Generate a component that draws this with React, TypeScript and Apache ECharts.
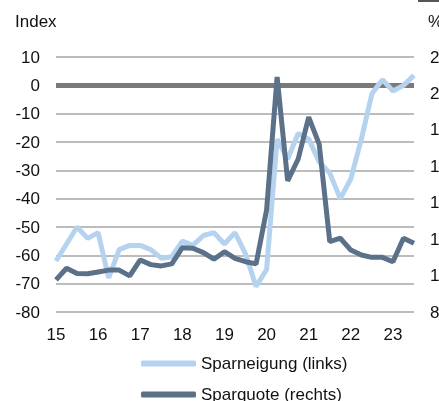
import React, { useEffect, useRef } from "react";
import * as echarts from "echarts";

const categories: string[] = [];
for (let y = 2015; y <= 2023; y++) {
  for (let q = 1; q <= 4; q++) {
    if (y === 2023 && q === 4) break;
    categories.push(`${y}Q${q}`);
  }
}

const sparneigung = [
  -62, -56, -50, -54, -52, -68, -58, -56.5, -56.5, -58, -61, -60.5, -55, -56.5, -53, -52, -56,
  -52, -59.5, -71, -65, -19, -26, -17, -19, -27, -31, -40, -33, -19, -3, 2, -2, 0, 3.5,
];

const sparquote = [
  9.76, 10.4, 10.12, 10.1, 10.2, 10.3, 10.3, 9.98, 10.86, 10.6, 10.53, 10.64, 11.53, 11.5, 11.26,
  10.9, 11.31, 10.95, 10.76, 10.64, 13.6, 20.9, 15.2, 16.4, 18.7, 17.2, 11.86, 12.05, 11.4, 11.13,
  11.0, 11.0, 10.76, 12.05, 11.77,
];

const seriesNames = ["Sparneigung (links)", "Sparquote (rechts)"];
const FONT = "'Liberation Sans', Arial, sans-serif";

const legendBase = {
  orient: "vertical",
  left: 136,
  itemWidth: 55,
  itemHeight: 6,
  icon: "roundRect",
  textStyle: { fontSize: 17, color: "#111", fontFamily: FONT },
};

export default function App() {
  const ref = useRef<HTMLDivElement>(null);
  useEffect(() => {
    if (!ref.current) return;
    const chart = echarts.init(ref.current, undefined, { renderer: "svg" });
    chart.setOption({
      animation: false,
      textStyle: { fontFamily: FONT },
      grid: { left: 56, right: 25, top: 57, bottom: 89, containLabel: false, outerBoundsMode: "none" },
      legend: [
        { ...legendBase, top: 350, data: [seriesNames[0]] },
        { ...legendBase, top: 381, data: [seriesNames[1]] },
      ],
      graphic: [
        { type: "text", left: 15, top: 13, style: { text: "Index", fontSize: 17, fill: "#111", fontFamily: FONT } },
        { type: "text", x: 428, y: 13, style: { text: "%", fontSize: 17, fill: "#111", fontFamily: FONT } },
        { type: "line", shape: { x1: 418, y1: 1, x2: 439, y2: 1 }, style: { stroke: "#555", lineWidth: 2 } },
      ],
      xAxis: {
        type: "category",
        data: categories,
        boundaryGap: false,
        axisLine: { show: false },
        axisTick: { show: false },
        axisLabel: {
          interval: 0,
          margin: 14,
          fontSize: 17,
          color: "#111",
          fontFamily: FONT,
          formatter: (v: string) => (v.endsWith("Q1") ? v.slice(2, 4) : ""),
        },
        splitLine: { show: false },
      },
      yAxis: [
        {
          type: "value",
          min: -80,
          max: 10,
          interval: 10,
          axisLine: { show: false },
          axisTick: { show: false },
          axisLabel: { margin: 16, fontSize: 17, color: "#111", fontFamily: FONT },
          splitLine: { lineStyle: { color: "#a6a6a6", width: 1.5 } },
        },
        {
          type: "value",
          min: 8,
          max: 22,
          interval: 2,
          position: "right",
          axisLine: { show: false },
          axisTick: { show: false },
          axisLabel: { margin: 16, fontSize: 17, color: "#111", fontFamily: FONT, align: "left" },
          splitLine: { show: false },
        },
      ],
      series: [
        {
          name: seriesNames[0],
          type: "line",
          yAxisIndex: 0,
          data: sparneigung,
          showSymbol: false,
          symbol: "none",
          color: "#b5d3ef",
          lineStyle: { width: 5, color: "#b5d3ef" },
          markLine: {
            silent: true,
            symbol: "none",
            label: { show: false },
            lineStyle: { color: "#7a7a7a", width: 5, type: "solid" },
            data: [{ yAxis: 0 }],
            z: 1,
          },
        },
        {
          name: seriesNames[1],
          type: "line",
          yAxisIndex: 1,
          data: sparquote,
          showSymbol: false,
          symbol: "none",
          color: "#5a7189",
          lineStyle: { width: 5, color: "#5a7189" },
        },
      ],
    });
    return () => chart.dispose();
  }, []);
  return (
    <div
      ref={ref}
      style={{ position: "fixed", left: 0, top: 0, width: 439, height: 401 }}
    />
  );
}
